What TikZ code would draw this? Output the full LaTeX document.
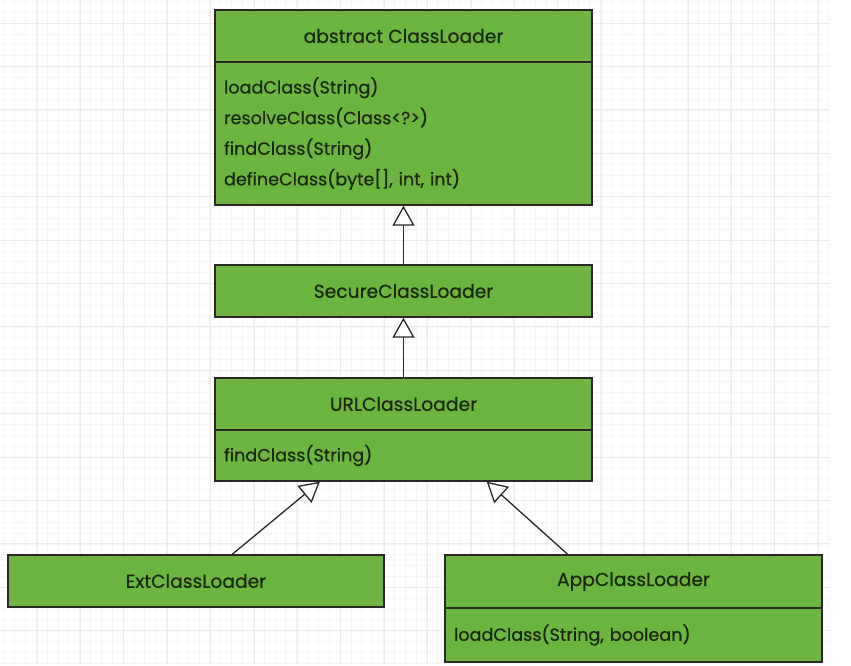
\documentclass[tikz,border=0pt]{standalone}
\usepackage{fontspec}
\setmainfont{Poppins}[FakeBold=0.6]
\usetikzlibrary{arrows.meta,calc}
\definecolor{umlgreen}{RGB}{110,180,64}
\definecolor{umledge}{RGB}{40,40,40}
\definecolor{umltext}{RGB}{25,40,15}
\definecolor{gridmajor}{RGB}{236,236,239}
\definecolor{gridminor}{RGB}{246,246,248}
\tikzset{
  classtitle/.style={draw=umledge, line width=1.4pt, fill=umlgreen, rectangle,
    minimum width=377pt, minimum height=52pt, inner sep=0pt, text=umltext,
    font=\fontsize{18.7}{21}\selectfont},
  classbody/.style={draw=umledge, line width=1.4pt, fill=umlgreen, rectangle,
    minimum width=377pt, inner sep=0pt, text=umltext, align=left,
    text width=359pt, font=\fontsize{17.6}{30.6}\selectfont},
  inherit/.style={draw=umledge, line width=1.3pt,
    -{Triangle[open, length=20pt, width=22pt, line width=1.3pt, fill=white]}}
}
\begin{document}
\begin{tikzpicture}[x=1pt,y=-1pt]
\useasboundingbox (0,0) rectangle (851,665);
\fill[white] (0,0) rectangle (851,665);
% grid
\foreach \i in {0,...,76} {
  \draw[gridminor, line width=0.6pt] ({3.6+\i*10.85},0) -- ({3.6+\i*10.85},665);
}
\foreach \j in {0,...,61} {
  \draw[gridminor, line width=0.6pt] (0,{1.3+\j*10.85}) -- (830,{1.3+\j*10.85});
}
\foreach \i in {0,...,18} {
  \draw[gridmajor, line width=1pt] ({37+\i*43.4},0) -- ({37+\i*43.4},665);
}
\foreach \j in {0,...,15} {
  \draw[gridmajor, line width=1pt] (0,{23+\j*43.4}) -- (830,{23+\j*43.4});
}
% classes
\node[classtitle] (clt) at (403.5,36) {abstract ClassLoader};
\node[classbody, minimum height=143pt] (clb) at (403.5,133.5)
  {loadClass(String)\\resolveClass(Class<?>)\\findClass(String)\\defineClass(byte[], int, int)};
\node[classtitle] (scl) at (403.5,291) {SecureClassLoader};
\node[classtitle] (urlt) at (403.5,404) {URLClassLoader};
\node[classbody, minimum height=51pt] (urlb) at (403.5,455.5) {findClass(String)};
\node[classtitle, minimum width=376pt] (ext) at (196,581) {ExtClassLoader};
\node[classtitle, minimum height=53pt] (appt) at (633.5,581.5) {AppClassLoader};
\node[classbody, minimum height=54pt] (appb) at (633.5,635) {loadClass(String, boolean)};
% connectors
\draw[inherit] (scl.north) -- (clb.south);
\draw[inherit] (urlt.north) -- (scl.south);
\draw[inherit] ($(ext.north west)!0.596!(ext.north east)$) -- ($(urlb.south west)!0.279!(urlb.south east)$);
\draw[inherit] ($(appt.north west)!0.326!(appt.north east)$) -- ($(urlb.south west)!0.72!(urlb.south east)$);
\end{tikzpicture}
\end{document}
